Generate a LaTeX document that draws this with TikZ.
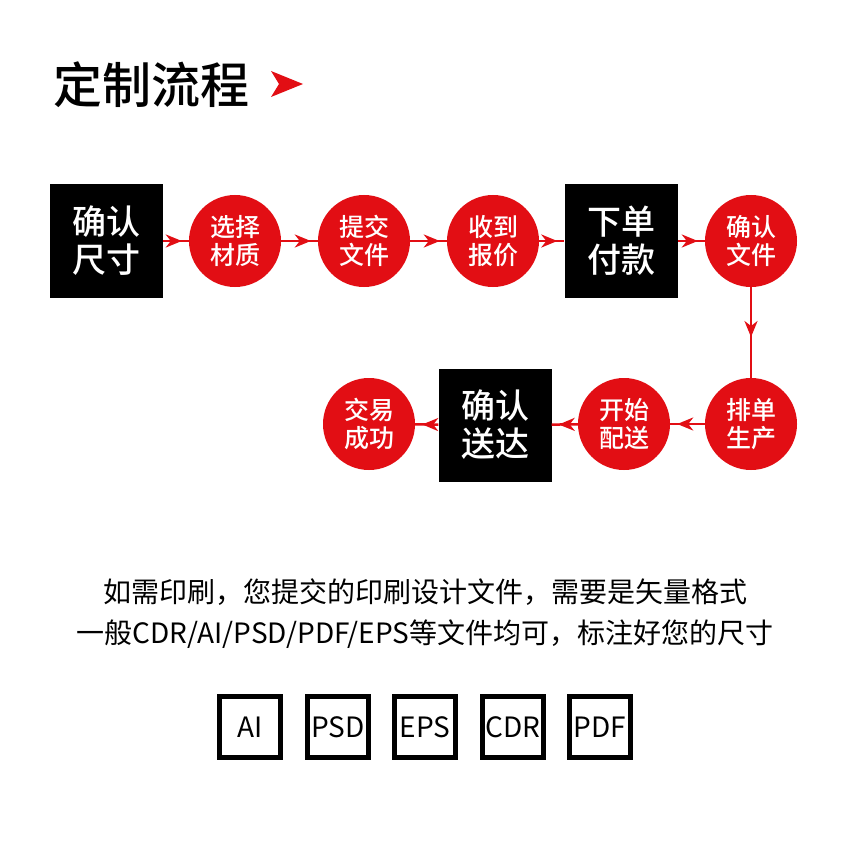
\documentclass[tikz,border=0pt]{standalone}
\usepackage{fontspec}
\setmainfont{Noto Sans CJK SC}
\newfontfamily\medfont{Noto Sans CJK SC Medium}
\usetikzlibrary{arrows.meta,decorations.markings}
\definecolor{flowred}{RGB}{226,14,20}
\tikzset{
  blackbox/.style ={fill=black,text=white,align=center,inner sep=0pt,
                    minimum width=113pt,minimum height=113pt,font=\medfont\fontsize{34}{38}\selectfont},
  redball/.style  ={circle,fill=flowred,text=white,align=center,inner sep=0pt,
                    minimum size=92pt,font=\medfont\fontsize{25}{28}\selectfont},
  filebox/.style  ={draw,line width=5pt,inner sep=0pt,minimum size=61pt,
                    font=\fontsize{28}{30}\selectfont},
  flow/.style     ={flowred,line width=2.5pt,postaction={decorate,decoration={markings,
                    mark=at position #1 with {\arrow{Stealth[length=16pt,width=13pt,inset=5pt]}}}}},
  flow/.default   =-7pt,
}

\begin{document}
\begin{tikzpicture}[x=1pt,y=-1pt]
\useasboundingbox[fill=white] (0,0) rectangle (850,850);
% Title
\node[anchor=west,inner sep=0pt,font=\medfont\fontsize{49}{52}\selectfont] (title) at (53,85) {定制流程};
\fill[flowred] (271,71) -- (303,84) -- (271,97) -- (279,84) -- cycle;
% First row, left to right
\node[blackbox] (size)     at (106,241) {确认\\尺寸};
\node[redball]  (material) at (235,241) {选择\\材质};
\node[redball]  (submit)   at (364,241) {提交\\文件};
\node[redball]  (quote)    at (493,241) {收到\\报价};
\node[blackbox] (pay)      at (621,241) {下单\\付款};
\node[redball]  (confirm)  at (751,241) {确认\\文件};
% Second row, right to left
\node[redball]  (produce)  at (751,424) {排单\\生产};
\node[redball]  (ship)     at (624,424) {开始\\配送};
\node[blackbox] (deliver)  at (495,425) {确认\\送达};
\node[redball]  (done)     at (369,424) {交易\\成功};
% Connectors
\draw[flow] (size) -- (material); \draw[flow] (material) -- (submit); \draw[flow] (submit) -- (quote);
\draw[flow] (quote) -- (pay); \draw[flow] (pay) -- (confirm);
\draw[flow=0.55] (confirm) -- (produce);
\draw[flow] (produce) -- (ship); \draw[flow] (ship) -- (deliver); \draw[flow] (deliver) -- (done);
% Notes
\node[font=\fontsize{28}{30}\selectfont] (note1) at (425,592) {如需印刷，您提交的印刷设计文件，需要是矢量格式};
\node[font=\fontsize{28}{30}\selectfont] (note2) at (425,634) {一般CDR/AI/PSD/PDF/EPS等文件均可，标注好您的尺寸};
% File formats
\node[filebox] (ai)  at (250,727) {AI};
\node[filebox] (psd) at (338,727) {PSD};
\node[filebox] (eps) at (425,727) {EPS};
\node[filebox] (cdr) at (513,727) {CDR};
\node[filebox] (pdf) at (600,727) {PDF};
\end{tikzpicture}
\end{document}
